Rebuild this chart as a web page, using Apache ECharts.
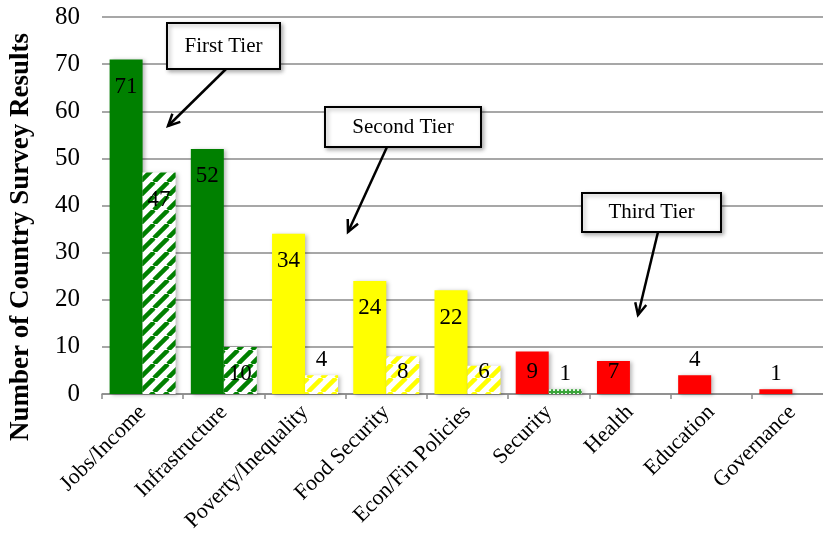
<!DOCTYPE html>
<html>
<head>
<meta charset="utf-8">
<script src="https://cdn.jsdelivr.net/npm/echarts@6/dist/echarts.min.js"></script>
<style>
  html, body { margin: 0; padding: 0; background: #fff; }
  #chart { width: 823px; height: 533px; }
</style>
</head>
<body>
<div id="chart"></div>
<script>
// Survey themes, grouped into three tiers
const categories = ['Jobs/Income', 'Infrastructure', 'Poverty/Inequality', 'Food Security',
  'Econ/Fin Policies', 'Security', 'Health', 'Education', 'Governance'];
const tiers = [1, 1, 2, 2, 2, 3, 3, 3, 3];
// Solid bars
const primaryCounts = [71, 52, 34, 24, 22, 9, 7, 4, 1];
// Hatched bars (no value where nothing was reported)
const secondaryCounts = [47, 10, 4, 8, 6, 1, null, null, null];
const yTicks = { min: 0, max: 80, step: 10 };
const axisTitle = 'Number of Country Survey Results';
const tierNotes = ['First Tier', 'Second Tier', 'Third Tier'];

const FONT = '"Liberation Serif", "Times New Roman", serif';
const tierColor = { 1: '#008000', 2: '#ffff00', 3: '#ff0000' };

function stripePattern(color) {
  const s = 14;
  const c = document.createElement('canvas');
  c.width = s; c.height = s;
  const g = c.getContext('2d');
  g.fillStyle = '#ffffff';
  g.fillRect(0, 0, s, s);
  g.strokeStyle = color;
  g.lineWidth = 4.5;
  for (let k = -1; k <= 1; k++) {
    g.beginPath();
    g.moveTo(k * s, s);
    g.lineTo(k * s + s, 0);
    g.stroke();
  }
  return { image: c, repeat: 'repeat' };
}

function dotPattern() {
  const s = 4;
  const c = document.createElement('canvas');
  c.width = s; c.height = s;
  const g = c.getContext('2d');
  g.fillStyle = '#3aa53a';
  g.fillRect(0, 0, s, s);
  g.fillStyle = '#e6f6e6';
  g.fillRect(1, 1, 2, 2);
  return { image: c, repeat: 'repeat' };
}

// Label placement: inside the top of tall bars, near the base of mid bars, above short bars
function labelFor(v) {
  if (v >= 10) return { position: 'insideTop', distance: 16 };
  if (v >= 5) return { position: 'insideBottom', distance: 11 };
  return { position: 'top', distance: 4 };
}

const shadow = { shadowColor: 'rgba(0,0,0,0.28)', shadowBlur: 4, shadowOffsetX: 2, shadowOffsetY: 1 };

const primaryData = primaryCounts.map((v, i) => ({
  value: v,
  itemStyle: Object.assign({ color: tierColor[tiers[i]] }, shadow),
  label: labelFor(v)
}));

const secondaryData = secondaryCounts.map((v, i) => {
  if (v == null) return { value: null };
  const fill = tiers[i] === 3 ? dotPattern() : stripePattern(tierColor[tiers[i]]);
  return {
    value: v,
    itemStyle: Object.assign({ color: fill }, shadow),
    label: labelFor(v)
  };
});

const labelStyle = { show: true, color: '#000', fontFamily: FONT, fontSize: 23 };

// Callout boxes with arrows
function callout(text, box, from, to) {
  const ang = Math.atan2(to[1] - from[1], to[0] - from[0]);
  const h = 13, spread = 0.45;
  const p1 = [to[0] - h * Math.cos(ang - spread), to[1] - h * Math.sin(ang - spread)];
  const p2 = [to[0] - h * Math.cos(ang + spread), to[1] - h * Math.sin(ang + spread)];
  return [
    {
      type: 'rect', z: 100,
      shape: { x: box[0], y: box[1], width: box[2], height: box[3] },
      style: { fill: '#fff', stroke: '#000', lineWidth: 2,
        shadowColor: 'rgba(0,0,0,0.3)', shadowBlur: 4, shadowOffsetX: 2, shadowOffsetY: 2 }
    },
    {
      type: 'text', z: 101,
      x: box[0] + box[2] / 2, y: box[1] + box[3] / 2,
      style: { text: text, fill: '#000', font: '21px ' + FONT, align: 'center', verticalAlign: 'middle' }
    },
    {
      type: 'polyline', z: 100,
      shape: { points: [from, to] },
      style: { stroke: '#000', lineWidth: 2.5, fill: null }
    },
    {
      type: 'polyline', z: 100,
      shape: { points: [p1, to, p2] },
      style: { stroke: '#000', lineWidth: 2.5, fill: null, lineJoin: 'miter' }
    }
  ];
}

const chart = echarts.init(document.getElementById('chart'), null, { renderer: 'canvas' });
chart.setOption({
  animation: false,
  backgroundColor: '#fff',
  grid: { left: 102, top: 17, width: 731, height: 377, containLabel: false, outerBoundsMode: 'none' },
  xAxis: {
    type: 'category',
    data: categories,
    boundaryGap: true,
    axisLine: { lineStyle: { color: '#8a8a8a', width: 1.5 } },
    axisTick: { show: true, interval: 0, length: 5, lineStyle: { color: '#8a8a8a', width: 1.5 } },
    axisLabel: { interval: 0, rotate: 45, margin: 15, color: '#000', fontFamily: FONT, fontSize: 22 }
  },
  yAxis: {
    type: 'value',
    min: yTicks.min, max: yTicks.max, interval: yTicks.step,
    axisLine: { show: false },
    axisTick: { show: false },
    axisLabel: { margin: 22, color: '#000', fontFamily: FONT, fontSize: 25 },
    splitLine: { lineStyle: { color: '#8a8a8a', width: 1.5 } }
  },
  series: [
    {
      type: 'bar', data: primaryData, barWidth: 33, barGap: '0%',
      label: labelStyle
    },
    {
      type: 'bar', data: secondaryData, barWidth: 33, barGap: '0%',
      label: labelStyle
    }
  ],
  graphic: [
    {
      type: 'text', x: 21, y: 237, rotation: Math.PI / 2,
      style: { text: axisTitle, fill: '#000', font: 'bold 27px ' + FONT, align: 'center', verticalAlign: 'middle' }
    }
  ].concat(
    callout(tierNotes[0], [167, 23, 113, 46], [226, 69], [168, 126]),
    callout(tierNotes[1], [325, 107, 156, 40], [387, 147], [348, 232]),
    callout(tierNotes[2], [582, 193, 139, 39], [658, 232], [638, 315])
  )
});
</script>
</body>
</html>
